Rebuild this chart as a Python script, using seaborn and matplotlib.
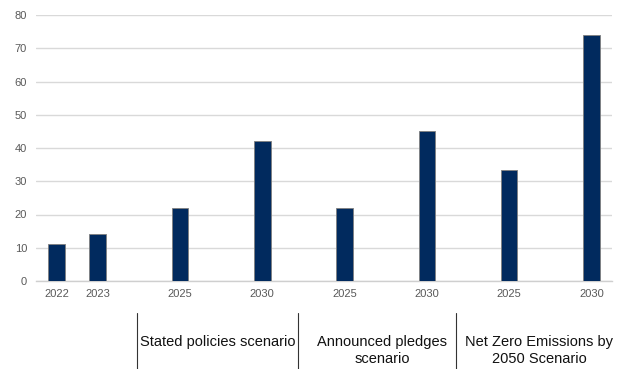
import matplotlib
matplotlib.use("Agg")
import matplotlib.pyplot as plt
import seaborn as sns
import pandas as pd

# ---- data ----
years = ["2022", "2023", "2025", "2030", "2025", "2030", "2025", "2030"]
groups = ["Historical", "Historical",
          "Stated policies scenario", "Stated policies scenario",
          "Announced pledges\nscenario", "Announced pledges\nscenario",
          "Net Zero Emissions by\n2050 Scenario", "Net Zero Emissions by\n2050 Scenario"]
values = [11, 14, 22, 42, 22, 45, 33.5, 74]
scenario_labels = ["Stated policies scenario", "Announced pledges\nscenario",
                   "Net Zero Emissions by\n2050 Scenario"]
y_ticks = [0, 10, 20, 30, 40, 50, 60, 70, 80]

keys = [g + "|" + y for g, y in zip(groups, years)]
df = pd.DataFrame({"key": keys, "value": values})

# slot order with blank spacer slots before each projected value
order = []
ticklabels = []
for i, k in enumerate(keys):
    if i >= 2:
        order.append("gap%d" % i)
        ticklabels.append("")
    order.append(k)
    ticklabels.append(years[i])

sns.set_style("white")
plt.rcParams["font.family"] = ["Liberation Sans", "DejaVu Sans"]

fig = plt.figure(figsize=(6.27, 3.69), dpi=100)
ax = fig.add_axes([36 / 627, 1 - 281 / 369, (612 - 36) / 627, (281 - 15) / 369])

sns.barplot(data=df, x="key", y="value", order=order, color="#012a5e",
            width=0.4, edgecolor="#7f7f7f", linewidth=0.6, saturation=1, ax=ax,
            zorder=3)

ax.set_xlim(-0.5, len(order) - 0.5)
ax.set_ylim(0, 80)
ax.set_yticks(y_ticks)
ax.set_yticklabels([str(t) for t in y_ticks])
ax.set_xticks(range(len(order)))
ax.set_xticklabels(ticklabels)
ax.set_xlabel("")
ax.set_ylabel("")
ax.grid(axis="y", color="#d9d9d9", linewidth=1.0, zorder=0)
ax.set_axisbelow(True)
for s in ["top", "right", "left"]:
    ax.spines[s].set_visible(False)
ax.spines["bottom"].set_color("#cfcfcf")
ax.spines["bottom"].set_linewidth(1.0)
ax.tick_params(axis="both", length=0, labelsize=8, labelcolor="#595959")
ax.tick_params(axis="x", pad=6)
ax.tick_params(axis="y", pad=6.5)

# scenario group labels with separators below the axis
sep_x = [137, 298, 456]
for x in sep_x:
    fig.add_artist(plt.Line2D([x / 627, x / 627], [0, 1 - 313 / 369],
                              color="#333333", linewidth=0.8))
centers = [217.5, 382, 539]
for cx, lab in zip(centers, scenario_labels):
    fig.text(cx / 627, 1 - 335 / 369, lab, ha="center", va="top",
             fontsize=10.5, color="#111111", linespacing=1.3)

fig.savefig("out.png", dpi=100)
